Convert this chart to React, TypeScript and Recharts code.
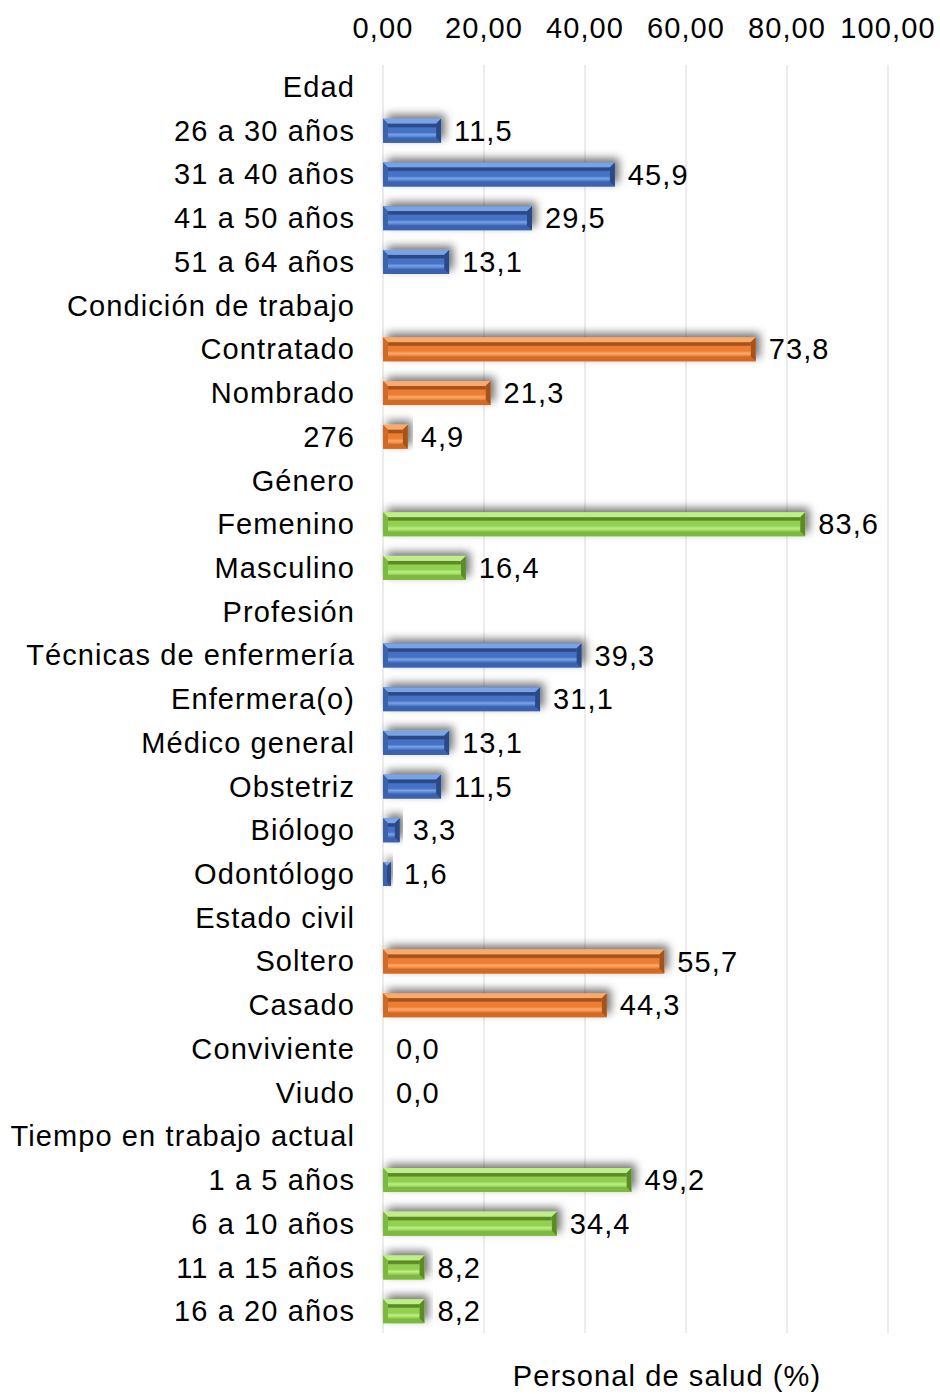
import { Bar, BarChart, CartesianGrid, LabelList, XAxis, YAxis } from "recharts"

const categories = [
  "Edad",
  "26 a 30 años",
  "31 a 40 años",
  "41 a 50 años",
  "51 a 64 años",
  "Condición de trabajo",
  "Contratado",
  "Nombrado",
  "276",
  "Género",
  "Femenino",
  "Masculino",
  "Profesión",
  "Técnicas de enfermería",
  "Enfermera(o)",
  "Médico general",
  "Obstetriz",
  "Biólogo",
  "Odontólogo",
  "Estado civil",
  "Soltero",
  "Casado",
  "Conviviente",
  "Viudo",
  "Tiempo en trabajo actual",
  "1 a 5 años",
  "6 a 10 años",
  "11 a 15 años",
  "16 a 20 años",
]

const values: (number | null)[] = [
  null, 11.5, 45.9, 29.5, 13.1,
  null, 73.8, 21.3, 4.9,
  null, 83.6, 16.4,
  null, 39.3, 31.1, 13.1, 11.5, 3.3, 1.6,
  null, 55.7, 44.3, 0, 0,
  null, 49.2, 34.4, 8.2, 8.2,
]

// 0 = azul, 1 = naranja, 2 = verde
const groups = [
  0, 0, 0, 0, 0,
  1, 1, 1, 1,
  2, 2, 2,
  0, 0, 0, 0, 0, 0, 0,
  1, 1, 1, 1, 1,
  2, 2, 2, 2, 2,
]

const xTicks = [0, 20, 40, 60, 80, 100]

const data = categories.map((name, i) => ({ name, value: values[i], group: groups[i] }))

const palettes = [
  { main: "#4472C4", light: "#7BA2E6", dark: "#2A4A86", mid: "#3A62AB" },
  { main: "#ED7D31", light: "#F9AB6E", dark: "#A4521A", mid: "#D06A26" },
  { main: "#92D050", light: "#C0EE8A", dark: "#5B8A27", mid: "#7DB83F" },
]

const FONT = "'Liberation Sans', Arial, sans-serif"
const FS = 29
const LS = 1.1

function BevelBar(props: any) {
  const { x, y, width, height, payload } = props
  if (!width || width <= 0) return null
  const p = palettes[payload.group]
  const b = Math.min(5, width / 2)
  const r = x + width
  const bt = y + height
  return (
    <g filter="url(#barShadow)">
      <rect x={x} y={y} width={width} height={height} fill={p.main} />
      <polygon points={`${x},${y} ${r},${y} ${r - b},${y + b} ${x + b},${y + b}`} fill={p.light} />
      <polygon points={`${x},${bt} ${r},${bt} ${r - b},${bt - b} ${x + b},${bt - b}`} fill={p.mid} />
      <polygon points={`${x},${y} ${x + b},${y + b} ${x + b},${bt - b} ${x},${bt}`} fill={p.mid} />
      <polygon points={`${r},${y} ${r - b},${y + b} ${r - b},${bt - b} ${r},${bt}`} fill={p.dark} />
      {width > 2 * b && (
        <rect x={x + b} y={y + b} width={width - 2 * b} height={height - 2 * b} fill={`url(#inner${payload.group})`} />
      )}
    </g>
  )
}

function CategoryTick(props: any) {
  const { x, y, payload } = props
  return (
    <text x={x} y={y} dy="0.35em" textAnchor="end" fill="#000" fontFamily={FONT} fontSize={FS} letterSpacing={LS}>
      {payload.value}
    </text>
  )
}

function ValueTick(props: any) {
  const { x, y, payload } = props
  return (
    <text x={x} y={y} textAnchor="middle" fill="#000" fontFamily={FONT} fontSize={FS} letterSpacing={LS}>
      {payload.value.toFixed(2).replace(".", ",")}
    </text>
  )
}

function ValueLabel(props: any) {
  const { x, y, width, height, value } = props
  if (value === null || value === undefined) return null
  return (
    <text
      x={x + width + 13}
      y={y + height / 2}
      dy="0.35em"
      fill="#000"
      fontFamily={FONT}
      fontSize={FS}
      letterSpacing={LS}
    >
      {Number(value).toFixed(1).replace(".", ",")}
    </text>
  )
}

export default function App() {
  return (
    <div style={{ position: "absolute", left: 0, top: 0, width: 940, height: 1394, background: "#fff" }}>
      <BarChart
        width={940}
        height={1394}
        data={data}
        layout="vertical"
        margin={{ top: 0, right: 52, bottom: 61, left: 0 }}
      >
        <defs>
          <filter id="barShadow" x="-10%" y="-80%" width="130%" height="260%">
            <feDropShadow dx={4} dy={-4} stdDeviation={4} floodColor="#000" floodOpacity={0.55} />
          </filter>
          {palettes.map((p, i) => (
            <linearGradient key={i} id={`inner${i}`} x1="0" y1="0" x2="0" y2="1">
              <stop offset="0%" stopColor={p.dark} />
              <stop offset="20%" stopColor={p.dark} />
              <stop offset="30%" stopColor={p.main} />
              <stop offset="62%" stopColor={p.main} />
              <stop offset="78%" stopColor={p.light} />
              <stop offset="100%" stopColor={p.main} />
            </linearGradient>
          ))}
        </defs>
        <CartesianGrid horizontal={false} stroke="#d9d9d9" />
        <XAxis
          type="number"
          orientation="top"
          domain={[0, 100]}
          ticks={xTicks}
          height={65}
          axisLine={false}
          tickLine={false}
          tickSize={0}
          tickMargin={27}
          tick={<ValueTick />}
        />
        <YAxis
          type="category"
          dataKey="name"
          width={383}
          interval={0}
          axisLine={false}
          tickLine={false}
          tickSize={0}
          tickMargin={28}
          tick={<CategoryTick />}
        />
        <Bar dataKey="value" barSize={24} isAnimationActive={false} shape={<BevelBar />}>
          <LabelList dataKey="value" content={<ValueLabel />} />
        </Bar>
      </BarChart>
      <div
        style={{
          position: "absolute",
          left: 467,
          width: 400,
          top: 1361,
          textAlign: "center",
          fontFamily: FONT,
          fontSize: FS,
          letterSpacing: LS,
          lineHeight: "30px",
          color: "#000",
        }}
      >
        Personal de salud (%)
      </div>
    </div>
  )
}
